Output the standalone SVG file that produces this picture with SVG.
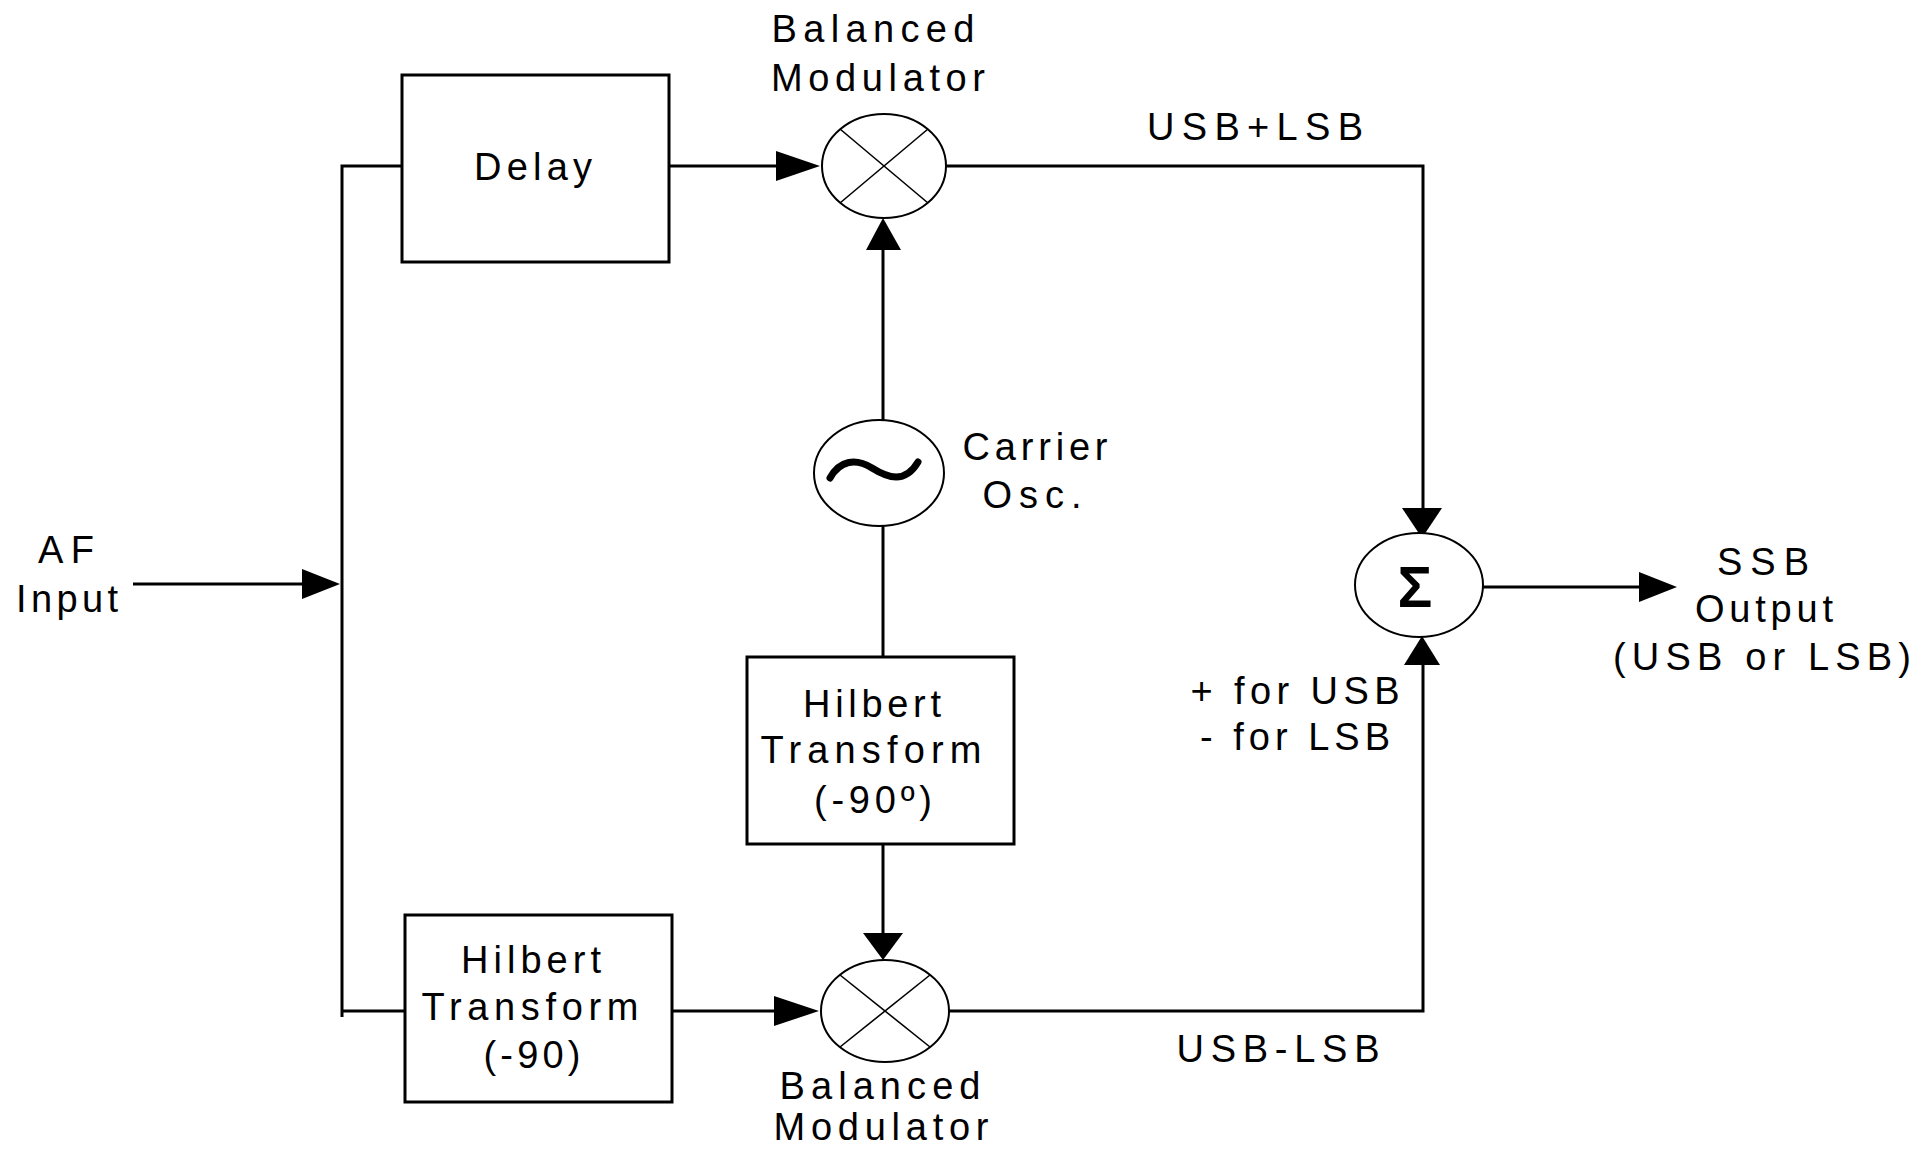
<svg xmlns="http://www.w3.org/2000/svg" width="1926" height="1149" viewBox="0 0 1926 1149">
<style>
.ln{stroke:#000;stroke-width:3;fill:none}
.bx{stroke:#000;stroke-width:3;fill:#fff}
.el{stroke:#000;stroke-width:2;fill:#fff}
.x{stroke:#000;stroke-width:1.6;fill:none}
.ah{fill:#000;stroke:none}
text{font-family:"Liberation Sans",Arial,sans-serif;font-size:38px;fill:#000;text-anchor:middle}
</style>
<rect width="1926" height="1149" fill="#fff"/>
<g id="connectors">
<line class="ln" x1="133" y1="584" x2="304" y2="584"/>
<polyline class="ln" points="402,166 342,166 342,1017"/>
<line class="ln" x1="342" y1="1011" x2="405" y2="1011"/>
<line class="ln" x1="669" y1="166" x2="778" y2="166"/>
<polyline class="ln" points="946,166 1423,166 1423,510"/>
<line class="ln" x1="883" y1="248" x2="883" y2="421"/>
<line class="ln" x1="883" y1="526" x2="883" y2="657"/>
<line class="ln" x1="883" y1="844" x2="883" y2="935"/>
<line class="ln" x1="672" y1="1011" x2="776" y2="1011"/>
<polyline class="ln" points="949,1011 1423,1011 1423,663"/>
<line class="ln" x1="1483" y1="587" x2="1641" y2="587"/>
<polygon class="ah" points="302,569 340,584 302,599"/>
<polygon class="ah" points="776,151 820,166 776,181"/>
<polygon class="ah" points="866,250 883,218 901,250"/>
<polygon class="ah" points="863,933 883,960 903,933"/>
<polygon class="ah" points="774,996 819,1011 774,1026"/>
<polygon class="ah" points="1402,508 1422,538 1442,508"/>
<polygon class="ah" points="1404,665 1422,636 1440,665"/>
<polygon class="ah" points="1639,572 1677,587 1639,602"/>
</g>
<g id="af-input">
<text x="66" y="563" textLength="56" lengthAdjust="spacing">AF</text>
<text x="67" y="612" textLength="102" lengthAdjust="spacing">Input</text>
</g>
<g id="delay">
<rect class="bx" x="402" y="75" width="267" height="187"/>
<text x="533" y="180" textLength="118" lengthAdjust="spacing">Delay</text>
</g>
<g id="mixer-top">
<ellipse class="el" cx="884" cy="166" rx="62" ry="52"/>
<line class="x" x1="840" y1="129" x2="928" y2="203"/>
<line class="x" x1="928" y1="129" x2="840" y2="203"/>
<text x="873" y="42" textLength="203" lengthAdjust="spacing">Balanced</text>
<text x="878" y="91" textLength="214" lengthAdjust="spacing">Modulator</text>
</g>
<g id="usb-plus-lsb">
<text x="1255" y="140" textLength="216" lengthAdjust="spacing">USB+LSB</text>
</g>
<g id="oscillator">
<ellipse class="el" cx="879" cy="473" rx="65" ry="53"/>
<path d="M830,478 C840,460 856,458 872,468 C888,478 905,484 918,462" stroke="#000" stroke-width="7" fill="none" stroke-linecap="round"/>
<text x="1035" y="460" textLength="145" lengthAdjust="spacing">Carrier</text>
<text x="1032" y="508" textLength="99" lengthAdjust="spacing">Osc.</text>
</g>
<g id="hilbert-mid">
<rect class="bx" x="747" y="657" width="267" height="187"/>
<text x="872" y="717" textLength="138" lengthAdjust="spacing">Hilbert</text>
<text x="871" y="763" textLength="221" lengthAdjust="spacing">Transform</text>
<text x="873" y="813" textLength="118" lengthAdjust="spacing">(-90º)</text>
</g>
<g id="hilbert-bottom">
<rect class="bx" x="405" y="915" width="267" height="187"/>
<text x="531" y="973" textLength="140" lengthAdjust="spacing">Hilbert</text>
<text x="530" y="1020" textLength="217" lengthAdjust="spacing">Transform</text>
<text x="532" y="1068" textLength="97" lengthAdjust="spacing">(-90)</text>
</g>
<g id="mixer-bottom">
<ellipse class="el" cx="885" cy="1011" rx="64" ry="51"/>
<line class="x" x1="840" y1="975" x2="930" y2="1047"/>
<line class="x" x1="930" y1="975" x2="840" y2="1047"/>
<text x="880" y="1099" textLength="201" lengthAdjust="spacing">Balanced</text>
<text x="881" y="1140" textLength="215" lengthAdjust="spacing">Modulator</text>
</g>
<g id="usb-minus-lsb">
<text x="1278" y="1062" textLength="203" lengthAdjust="spacing">USB-LSB</text>
</g>
<g id="summer">
<ellipse class="el" cx="1419" cy="585" rx="64" ry="52"/>
<text x="1415" y="607" style="font-size:58px;font-weight:bold">Σ</text>
<text x="1295" y="704" textLength="209" lengthAdjust="spacing">+ for USB</text>
<text x="1295" y="750" textLength="190" lengthAdjust="spacing">- for LSB</text>
</g>
<g id="ssb-output">
<text x="1763" y="575" textLength="92" lengthAdjust="spacing">SSB</text>
<text x="1764" y="622" textLength="138" lengthAdjust="spacing">Output</text>
<text x="1762" y="670" textLength="298" lengthAdjust="spacing">(USB or LSB)</text>
</g>
</svg>
